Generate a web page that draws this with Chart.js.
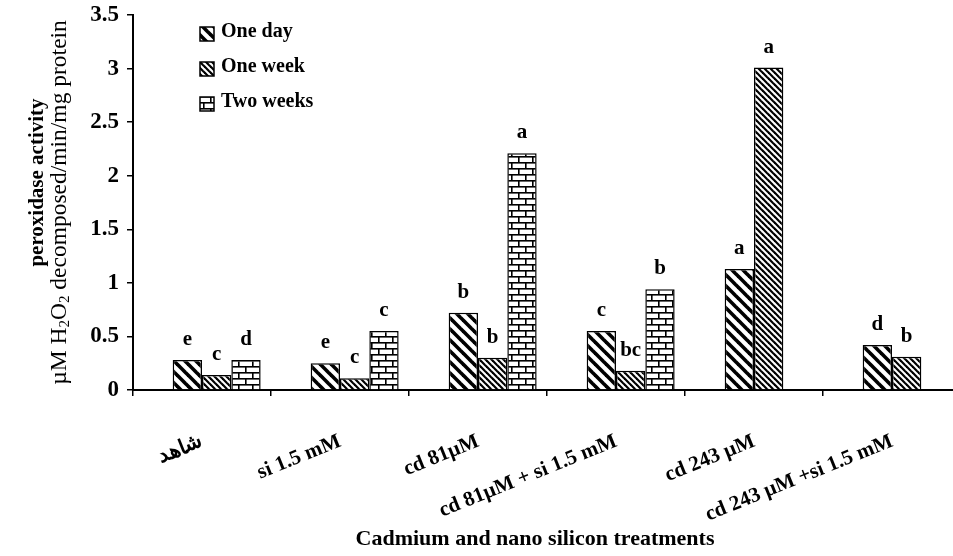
<!DOCTYPE html>
<html>
<head>
<meta charset="utf-8">
<script src="https://cdn.jsdelivr.net/npm/chart.js@4.4.1/dist/chart.umd.min.js"></script>
<style>
  html, body { margin: 0; padding: 0; background: #fff; overflow: hidden; }
  #wrap { width: 975px; height: 556px; }
</style>
</head>
<body>
<div id="wrap"><canvas id="grafico"></canvas></div>
<script>
// dados
const categorias = ['شاهد', 'si 1.5 mM', 'cd 81µM', 'cd 81µM + si 1.5 mM', 'cd 243 µM', 'cd 243 µM +si 1.5 mM'];
const series = ['One day', 'One week', 'Two weeks'];
const umDia = [0.28, 0.25, 0.72, 0.55, 1.13, 0.42];
const umaSemana = [0.14, 0.11, 0.30, 0.18, 3.01, 0.31];
const duasSemanas = [0.28, 0.55, 2.21, 0.94, null, null];
const letrasDia = ['e', 'e', 'b', 'c', 'a', 'd'];
const letrasSemana = ['c', 'c', 'b', 'bc', 'a', 'b'];
const letrasDuas = ['d', 'c', 'a', 'b', '', ''];
const ticksY = [0, 0.5, 1, 1.5, 2, 2.5, 3, 3.5];

const fonte = '"Liberation Serif", "Times New Roman", serif';

// padroes de preenchimento
function listras(tam, larg) {
    const c = document.createElement('canvas');
    c.width = tam; c.height = tam;
    const g = c.getContext('2d');
    g.fillStyle = '#fff';
    g.fillRect(0, 0, tam, tam);
    g.strokeStyle = '#000';
    g.lineWidth = larg;
    [-tam, 0, tam].forEach(k => {
        g.beginPath();
        g.moveTo(-2, -2 + k);
        g.lineTo(tam + 2, tam + 2 + k);
        g.stroke();
    });
    return g.createPattern(c, 'repeat');
}

function tijolos() {
    const c = document.createElement('canvas');
    c.width = 14; c.height = 12;
    const g = c.getContext('2d');
    g.fillStyle = '#fff';
    g.fillRect(0, 0, 14, 12);
    g.fillStyle = '#000';
    g.fillRect(0, 0, 14, 1.6);
    g.fillRect(0, 6, 14, 1.6);
    g.fillRect(0, 0, 1.6, 6);
    g.fillRect(7, 6, 1.6, 6);
    return g.createPattern(c, 'repeat');
}

const padroes = [listras(11, 3.6), listras(6, 2.2), tijolos()];

const pluginLetras = {
    id: 'letras',
    afterDatasetsDraw(chart) {
        const ctx = chart.ctx;
        const listas = [letrasDia, letrasSemana, letrasDuas];
        ctx.save();
        ctx.font = 'bold 21px ' + fonte;
        ctx.textAlign = 'center';
        ctx.textBaseline = 'alphabetic';
        ctx.fillStyle = '#000';
        listas.forEach((arr, i) => {
            const meta = chart.getDatasetMeta(i + 1);
            meta.data.forEach((barra, j) => {
                if (!arr[j] || chart.data.datasets[i + 1].data[j] == null) return;
                ctx.fillText(arr[j], barra.x, barra.y - 15);
            });
        });
        ctx.restore();
    }
};

const pluginLegenda = {
    id: 'legendaPadrao',
    afterDraw(chart) {
        const ctx = chart.ctx;
        ctx.save();
        ctx.font = 'bold 20px ' + fonte;
        ctx.textBaseline = 'middle';
        series.forEach((nome, i) => {
            const y = 34 + i * 35;
            ctx.fillStyle = padroes[i];
            ctx.fillRect(200, y - 7, 14, 14);
            ctx.strokeStyle = '#000';
            ctx.lineWidth = 1.5;
            ctx.strokeRect(200, y - 7, 14, 14);
            ctx.fillStyle = '#000';
            ctx.fillText(nome, 221, y - 2);
        });
        ctx.restore();
    }
};

const pluginTitulos = {
    id: 'titulos',
    afterDraw(chart) {
        const ctx = chart.ctx;
        const area = chart.chartArea;
        const cy = (area.top + area.bottom) / 2;
        ctx.save();
        ctx.fillStyle = '#000';
        // titulo do eixo x
        ctx.font = 'bold 22px ' + fonte;
        ctx.textAlign = 'center';
        ctx.textBaseline = 'middle';
        ctx.fillText('Cadmium and nano silicon treatments', 535, 539);

        // titulo do eixo y (duas linhas)
        ctx.translate(38, cy);
        ctx.rotate(-Math.PI / 2);
        ctx.font = 'bold 21px ' + fonte;
        ctx.fillText('peroxidase activity', 20, 0);

        const partes = [['µM H', false], ['2', true], ['O', false], ['2', true], [' decomposed/min/mg protein', false]];
        const normal = '23.5px ' + fonte;
        const sub = '15px ' + fonte;
        let total = 0;
        partes.forEach(p => { ctx.font = p[1] ? sub : normal; total += ctx.measureText(p[0]).width; });
        let x = -total / 2;
        ctx.textAlign = 'left';
        partes.forEach(p => {
            ctx.font = p[1] ? sub : normal;
            ctx.fillText(p[0], x, p[1] ? 27 : 22);
            x += ctx.measureText(p[0]).width;
        });
        ctx.restore();
    }
};

const ctx = document.getElementById('grafico').getContext('2d');

const grafico = new Chart(ctx, {
    type: 'bar',
    data: {
        labels: categorias,
        datasets: [
            { label: '', data: categorias.map(() => null) }, // serie vazia (espaco do excel)
            { label: series[0], data: umDia, backgroundColor: padroes[0] },
            { label: series[1], data: umaSemana, backgroundColor: padroes[1] },
            { label: series[2], data: duasSemanas, backgroundColor: padroes[2] }
        ].map(d => Object.assign(d, {
            borderColor: '#000',
            borderWidth: 1.5,
            categoryPercentage: 0.85,
            barPercentage: 1.0
        }))
    },
    options: {
        responsive: true,
        maintainAspectRatio: false,
        animation: false,
        layout: { padding: { top: 15, right: 14, left: 0, bottom: 0 } },
        plugins: {
            legend: { display: false },
            tooltip: { enabled: false }
        },
        scales: {
            x: {
                grid: { drawOnChartArea: false, tickLength: 6, color: '#000', lineWidth: 1.5 },
                border: { color: '#000', width: 2 },
                ticks: {
                    color: '#000',
                    font: { family: fonte, size: 21, weight: 'bold' },
                    minRotation: 22,
                    maxRotation: 22,
                    padding: 33,
                    autoSkip: false
                },
                afterFit: (s) => { s.height = 166; }
            },
            y: {
                min: 0,
                max: 3.5,
                afterBuildTicks: (s) => { s.ticks = ticksY.map(v => ({ value: v })); },
                grid: { drawOnChartArea: false, tickLength: 6, color: '#000', lineWidth: 1.5 },
                border: { color: '#000', width: 2 },
                ticks: {
                    color: '#000',
                    font: { family: fonte, size: 23, weight: 'bold' },
                    padding: 8,
                    callback: (v) => String(v)
                },
                afterFit: (s) => { s.width = 133; s.paddingTop = 0; }
            }
        }
    },
    plugins: [pluginLetras, pluginLegenda, pluginTitulos]
});
</script>
</body>
</html>
